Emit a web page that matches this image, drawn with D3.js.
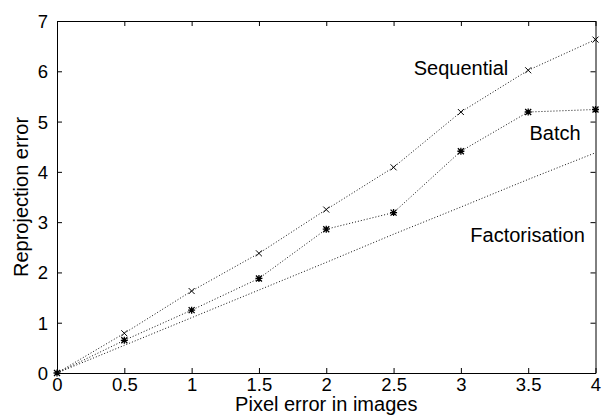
<!DOCTYPE html>
<html>
<head>
<meta charset="utf-8">
<script src="https://cdn.jsdelivr.net/npm/d3@7"></script>
<style>
  html, body { margin: 0; padding: 0; background: #fff; }
  svg { display: block; }
  text { font-family: "Liberation Sans", Arial, Helvetica, sans-serif; fill: #000; }
</style>
</head>
<body>
<svg id="chart" width="608" height="417"></svg>
<script>
// ---- data ----
const xValues = [0, 0.5, 1, 1.5, 2, 2.5, 3, 3.5, 4];
const sequential = [0, 0.79, 1.63, 2.38, 3.25, 4.09, 5.19, 6.02, 6.63];
const batch = [0, 0.65, 1.25, 1.88, 2.86, 3.19, 4.41, 5.19, 5.24];
const factorisation = [0, 0.55, 1.1, 1.65, 2.2, 2.76, 3.3, 3.85, 4.38];
const xTicks = [0, 0.5, 1, 1.5, 2, 2.5, 3, 3.5, 4];
const yTicks = [0, 1, 2, 3, 4, 5, 6, 7];
const annotations = [
  { text: "Sequential", x: 2.65, y: 5.92 },
  { text: "Batch", x: 3.51, y: 4.63 },
  { text: "Factorisation", x: 3.07, y: 2.6 }
];

// ---- layout ----
const W = 608, H = 417;
const m = { left: 57, top: 21, right: 12.5, bottom: 44 };
const svg = d3.select("#chart");
const x = d3.scaleLinear().domain([0, 4]).range([m.left, W - m.right]);
const y = d3.scaleLinear().domain([0, 7]).range([H - m.bottom, m.top]);

const fmt = d => String(d);
const tickLen = 5;

// axes (box with inward ticks)
const gB = svg.append("g").attr("transform", `translate(0,${y(0)})`)
  .call(d3.axisBottom(x).tickValues(xTicks).tickFormat(fmt).tickSizeInner(-tickLen).tickSizeOuter(0).tickPadding(4));
const gT = svg.append("g").attr("transform", `translate(0,${y(7)})`)
  .call(d3.axisTop(x).tickValues(xTicks).tickFormat("").tickSizeInner(-tickLen).tickSizeOuter(0));
const gL = svg.append("g").attr("transform", `translate(${x(0)},0)`)
  .call(d3.axisLeft(y).tickValues(yTicks).tickFormat(fmt).tickSizeInner(-tickLen).tickSizeOuter(0).tickPadding(9));
const gR = svg.append("g").attr("transform", `translate(${x(4)},0)`)
  .call(d3.axisRight(y).tickValues(yTicks).tickFormat("").tickSizeInner(-tickLen).tickSizeOuter(0));

[gB, gT, gL, gR].forEach(g => {
  g.selectAll(".domain").attr("stroke", "#000").attr("stroke-width", 1);
  g.selectAll(".tick line").attr("stroke", "#000").attr("stroke-width", 1);
  g.selectAll(".tick text").style("font-size", "18.5px").attr("fill", "#000");
});
gB.selectAll(".tick text").attr("dy", "0.75em");
gL.selectAll(".tick text").attr("dy", "0.35em");

// series lines
const line = d3.line().x((d, i) => x(xValues[i])).y(d => y(d));
const series = [
  { name: "Sequential", values: sequential, marker: "x" },
  { name: "Batch", values: batch, marker: "star" },
  { name: "Factorisation", values: factorisation, marker: null }
];
const plot = svg.append("g");
series.forEach(s => {
  plot.append("path")
    .datum(s.values)
    .attr("d", line)
    .attr("fill", "none")
    .attr("stroke", "#111")
    .attr("stroke-width", 1)
    .attr("stroke-dasharray", "1,2");
});

// markers
const r = 3;
function markerPath(type, cx, cy) {
  const p = d3.path();
  p.moveTo(cx - r, cy - r); p.lineTo(cx + r, cy + r);
  p.moveTo(cx - r, cy + r); p.lineTo(cx + r, cy - r);
  if (type === "star") {
    p.moveTo(cx - r - 0.5, cy); p.lineTo(cx + r + 0.5, cy);
    p.moveTo(cx, cy - r - 0.5); p.lineTo(cx, cy + r + 0.5);
  }
  return p.toString();
}
series.filter(s => s.marker).forEach(s => {
  plot.selectAll(null)
    .data(s.values)
    .enter().append("path")
    .attr("d", (d, i) => markerPath(s.marker, x(xValues[i]), y(d)))
    .attr("fill", "none")
    .attr("stroke", "#000")
    .attr("stroke-width", s.marker === "star" ? 1.3 : 1);
});

// annotations
svg.selectAll(null).data(annotations).enter().append("text")
  .attr("x", d => x(d.x)).attr("y", d => y(d.y))
  .style("font-size", "20px")
  .text(d => d.text);

// axis labels
svg.append("text")
  .attr("x", (x(0) + x(4)) / 2).attr("y", 411)
  .attr("text-anchor", "middle")
  .style("font-size", "20px")
  .text("Pixel error in images");
svg.append("text")
  .attr("transform", `translate(28,${(y(0) + y(7)) / 2}) rotate(-90)`)
  .attr("text-anchor", "middle")
  .style("font-size", "20px")
  .text("Reprojection error");
</script>
</body>
</html>
